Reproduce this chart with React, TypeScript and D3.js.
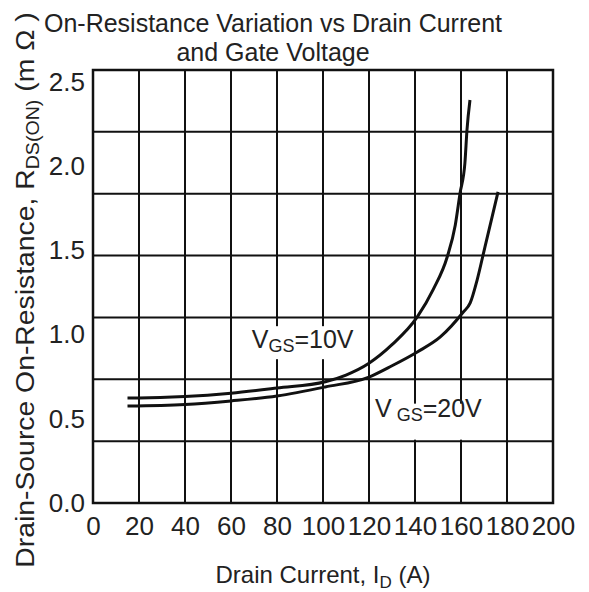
import React, { useEffect, useRef } from 'react'
import { select, scaleLinear, axisBottom, axisLeft, line, curveMonotoneX, range } from 'd3'

// drain current (A) / on-resistance (mOhm)
const currentTicks = [0, 20, 40, 60, 80, 100, 120, 140, 160, 180, 200]
const resistanceTicks = [0, 0.5, 1.0, 1.5, 2.0, 2.5]
const gridRows = 7

const vgs10Current = [15, 20, 40, 60, 80, 101, 110, 120, 130, 141, 148, 154, 157.5, 159.6, 161.7, 162.6, 163.9]
const vgs10Resistance = [0.624, 0.624, 0.632, 0.652, 0.683, 0.72, 0.76, 0.83, 0.94, 1.105, 1.27, 1.461, 1.65, 1.841, 2.019, 2.215, 2.393]
const vgs20Current = [15, 40, 60, 80, 101, 120, 130, 141, 151, 161, 164, 167, 170.4, 173.5, 176.1]
const vgs20Resistance = [0.576, 0.585, 0.606, 0.635, 0.689, 0.748, 0.815, 0.897, 0.986, 1.134, 1.188, 1.324, 1.52, 1.698, 1.847]

const W = 589
const H = 592
const margin = { top: 70, right: 36, bottom: 89, left: 93 }
const font = '"Liberation Sans", Arial, sans-serif'

export default function App() {
  const xAxisRef = useRef<SVGGElement | null>(null)
  const yAxisRef = useRef<SVGGElement | null>(null)

  const plotBottom = H - margin.bottom
  const plotRight = W - margin.right

  const xScale = scaleLinear().domain([0, 200]).range([margin.left, plotRight])
  const yScale = scaleLinear().domain([0, 2.5]).range([plotBottom, margin.top + 12])
  const gridScale = scaleLinear().domain([0, gridRows]).range([plotBottom, margin.top])

  const lineGen = line<[number, number]>()
    .x(d => xScale(d[0]))
    .y(d => yScale(d[1]))
    .curve(curveMonotoneX)

  const vgs10 = vgs10Current.map((c, i) => [c, vgs10Resistance[i]] as [number, number])
  const vgs20 = vgs20Current.map((c, i) => [c, vgs20Resistance[i]] as [number, number])

  useEffect(() => {
    if (xAxisRef.current && yAxisRef.current) {
      const xAxis = axisBottom(xScale).tickValues(currentTicks).tickSize(0).tickPadding(14)
      const gx = select(xAxisRef.current).call(xAxis)
      gx.select('.domain').remove()
      gx.selectAll('text').attr('font-size', 26).attr('font-family', font).attr('fill', '#222')

      const yAxis = axisLeft(yScale).tickValues(resistanceTicks).tickSize(0).tickPadding(8)
        .tickFormat(d => (d as number).toFixed(1))
      const gy = select(yAxisRef.current).call(yAxis)
      gy.select('.domain').remove()
      gy.selectAll('text').attr('font-size', 26).attr('font-family', font).attr('fill', '#222')
    }
  }, [])

  return (
    <div style={{ position: 'absolute', left: 0, top: 0 }}>
      <svg width={W} height={H} style={{ display: 'block', background: '#fff' }}>
        <g stroke='#111' strokeWidth={2}>
          {currentTicks.map(t => (
            <line key={'v' + t} x1={xScale(t)} x2={xScale(t)} y1={margin.top} y2={plotBottom} />
          ))}
          {range(gridRows + 1).map(r => (
            <line key={'h' + r} x1={margin.left} x2={plotRight} y1={gridScale(r)} y2={gridScale(r)} />
          ))}
        </g>
        <rect x={margin.left} y={margin.top} width={plotRight - margin.left} height={plotBottom - margin.top}
          fill='none' stroke='#111' strokeWidth={2.5} />

        {/* label backgrounds break the grid */}
        <rect x={xScale(67.5)} y={yScale(1.05)} width={114} height={33} fill='#fff' />
        <rect x={xScale(121)} y={yScale(0.59)} width={118} height={36} fill='#fff' />

        <path d={lineGen(vgs10) ?? ''} fill='none' stroke='#111' strokeWidth={3} />
        <path d={lineGen(vgs20) ?? ''} fill='none' stroke='#111' strokeWidth={3} />

        <g fontFamily={font} fill='#222'>
          <text x={xScale(69)} y={yScale(0.92)} fontSize={25}>
            V<tspan fontSize={18} dy={4}>GS</tspan><tspan dy={-4}>=10V</tspan>
          </text>
          <text x={xScale(122.6)} y={yScale(0.51)} fontSize={25}>
            V<tspan fontSize={18} dy={4} dx={5}>GS</tspan><tspan dy={-4}>=20V</tspan>
          </text>

          <text x={273} y={32} fontSize={25} textAnchor='middle'>On-Resistance Variation vs Drain Current</text>
          <text x={273} y={61} fontSize={25} textAnchor='middle'>and Gate Voltage</text>

          <text x={(margin.left + plotRight) / 2} y={583} fontSize={24} textAnchor='middle'>
            Drain Current, I<tspan fontSize={17} dy={5}>D</tspan><tspan dy={-5}> (A)</tspan>
          </text>

          <text transform='translate(34, 290) rotate(-90) scale(1.09, 1)' fontSize={26} textAnchor='middle'>
            Drain-Source On-Resistance, R<tspan fontSize={18} dy={5}>DS(ON)</tspan><tspan dy={-5}> (m Ω )</tspan>
          </text>
        </g>

        <g ref={xAxisRef} transform={`translate(0, ${plotBottom})`} />
        <g ref={yAxisRef} transform={`translate(${margin.left}, 0)`} />
      </svg>
    </div>
  )
}
